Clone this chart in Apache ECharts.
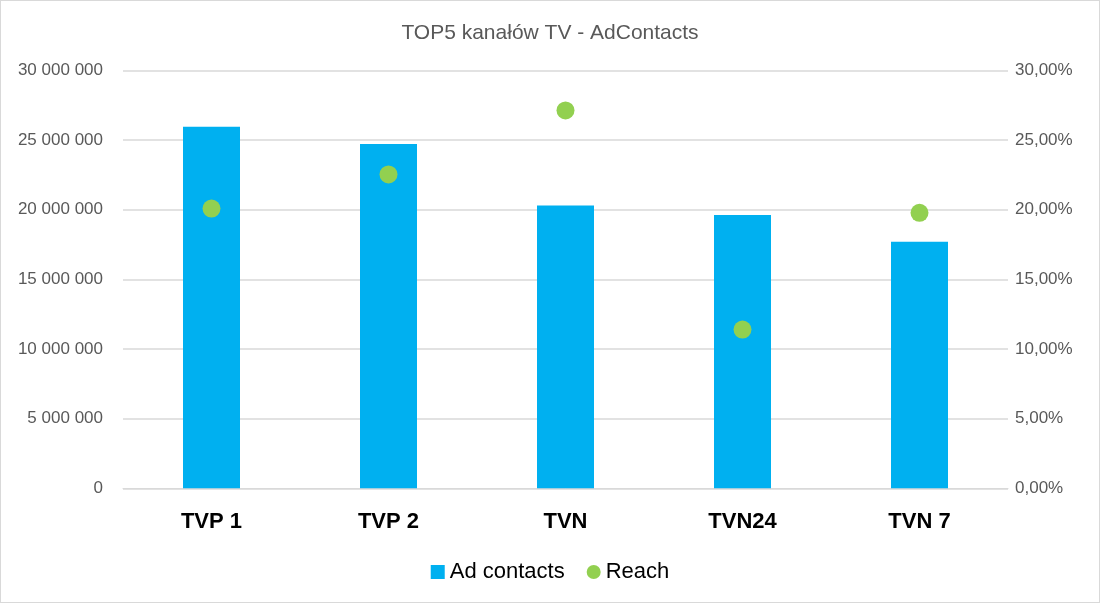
<!DOCTYPE html>
<html><head><meta charset="utf-8">
<script src="https://cdn.jsdelivr.net/npm/echarts@6/dist/echarts.min.js"></script>
<style>html,body{margin:0;padding:0;background:#fff;}#c{width:1098px;height:601px;border:1px solid #d9d9d9;}</style>
</head><body><div id="c"></div>
<script>
const categories = ['TVP 1','TVP 2','TVN','TVN24','TVN 7'];
const adContacts = [25950000, 24710000, 20290000, 19620000, 17700000];
const reach = [20.08, 22.53, 27.12, 11.39, 19.77];
const chart = echarts.init(document.getElementById('c'));
const font = 'Liberation Sans, sans-serif';
chart.setOption({
  animation:false,
  textStyle:{fontFamily:font},
  title:{text:'TOP5 kanałów TV - AdContacts',left:'center',top:17,textStyle:{fontFamily:font,fontSize:21,fontWeight:'normal',color:'#595959'}},
  legend:{bottom:14,left:'center',itemGap:22,itemWidth:14,itemHeight:14,textStyle:{fontFamily:font,fontSize:22,color:'#000'},
    data:[{name:'Ad contacts',icon:'rect'},{name:'Reach',icon:'circle'}]},
  grid:{left:122,right:91,top:69.3,bottom:113.7,containLabel:false},
  xAxis:{type:'category',data:categories,axisTick:{show:false},axisLine:{lineStyle:{color:'#d9d9d9',width:1}},
    axisLabel:{margin:23,fontSize:22,fontWeight:'bold',color:'#000',fontFamily:font}},
  yAxis:[{type:'value',min:0,max:30000000,interval:5000000,axisLine:{show:false},axisTick:{show:false},
    splitLine:{lineStyle:{color:'#d9d9d9',width:1.5}},
    axisLabel:{margin:20,fontSize:17,color:'#595959',fontFamily:font,formatter:v=>String(v).replace(/\B(?=(\d{3})+(?!\d))/g,' ')}},
    {type:'value',min:0,max:30,interval:5,position:'right',axisLine:{show:false},axisTick:{show:false},splitLine:{show:false},
    axisLabel:{margin:7,fontSize:17,color:'#595959',fontFamily:font,formatter:v=>v.toFixed(2).replace('.',',')+'%'}}],
  series:[
    {name:'Ad contacts',type:'bar',data:adContacts,barWidth:57,itemStyle:{color:'#00B0F0'}},
    {name:'Reach',type:'scatter',yAxisIndex:1,data:reach,symbolSize:18,itemStyle:{color:'#92D050',opacity:1}}
  ]
});
</script></body></html>
